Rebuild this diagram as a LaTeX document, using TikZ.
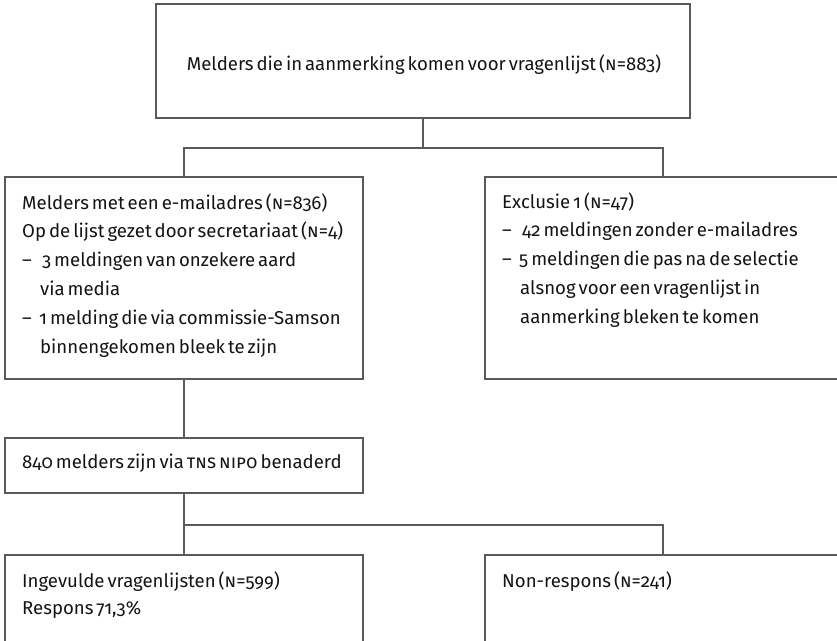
\documentclass[tikz,border=0pt]{standalone}
\usepackage{fontspec}
\setmainfont{Fira Sans}[Numbers=OldStyle,WordSpace=0.6]
\definecolor{linec}{HTML}{5A5A5A}
\definecolor{textc}{HTML}{141414}
\newcommand\fsz{\fontsize{18.6}{20}\selectfont}
\begin{document}
\begin{tikzpicture}[x=1pt,y=-1pt,
  box/.style={draw=linec,line width=1.1pt,rectangle,inner sep=0pt,outer sep=0pt},
  conn/.style={draw=linec,line width=1.1pt},
  txt/.style={anchor=base west,inner sep=0pt,font=\fsz,text=textc},
  ]
\useasboundingbox (0,0) rectangle (837,640);
\clip (0,0) rectangle (837,640);
% boxes
\node[box,minimum width=534pt,minimum height=114pt] (top) at (423,61) {};
\node[box,minimum width=358pt,minimum height=202pt] (L1) at (184,278) {};
\node[box,minimum width=356pt,minimum height=202pt] (R1) at (663,278) {};
\node[box,minimum width=358pt,minimum height=55pt] (M) at (184,465.5) {};
\node[box,minimum width=358pt,minimum height=110pt] (L2) at (184,610) {};
\node[box,minimum width=356pt,minimum height=110pt] (R2) at (663,610) {};
% connectors
\draw[conn] (top.south) -- ++(0,30) coordinate (j1);
\draw[conn] (L1.north) |- (j1) -| (R1.north);
\draw[conn] (L1.south) -- (M.north);
\draw[conn] (M.south) -- (L2.north);
\coordinate (j2) at (184,525);
\draw[conn] (j2) -| (R2.north);
% texts
\node[txt,anchor=base] (tTop) at (424,70) {Melders die in aanmerking komen voor vragenlijst (\textsc{n}=883)};
\node[txt] (a1) at (22,209) {Melders met een e-mailadres (\textsc{n}=836)};
\node[txt] (a2) at (22,237.8) {Op de lijst gezet door secretariaat (\textsc{n}=4)};
\node[txt] (a3) at (22,266.6) {–};
\node[txt] (a3b) at (42,266.6) {3 meldingen van onzekere aard};
\node[txt] (a4) at (40,295.4) {via media};
\node[txt] (a5) at (22,324.2) {–};
\node[txt] (a5b) at (39,324.2) {1 melding die via commissie-Samson};
\node[txt] (a6) at (40,353) {binnengekomen bleek te zijn};
\node[txt] (b1) at (502,208) {Exclusie 1 (\textsc{n}=47)};
\node[txt] (b2) at (502,236.8) {–};
\node[txt] (b2b) at (522,236.8) {42 meldingen zonder e-mailadres};
\node[txt] (b3) at (502,265.6) {–};
\node[txt] (b3b) at (519,265.6) {5 meldingen die pas na de selectie};
\node[txt] (b4) at (520,294.4) {alsnog voor een vragenlijst in};
\node[txt] (b5) at (520,323.2) {aanmerking bleken te komen};
\node[txt] (c1) at (22,468) {840 melders zijn via \textsc{tns nipo} benaderd};
\node[txt] (d1) at (22,587) {Ingevulde vragenlijsten (\textsc{n}=599)};
\node[txt] (d2) at (22,614) {Respons 71,3\%};
\node[txt] (e1) at (502,587) {Non-respons (\textsc{n}=241)};
\end{tikzpicture}
\end{document}
